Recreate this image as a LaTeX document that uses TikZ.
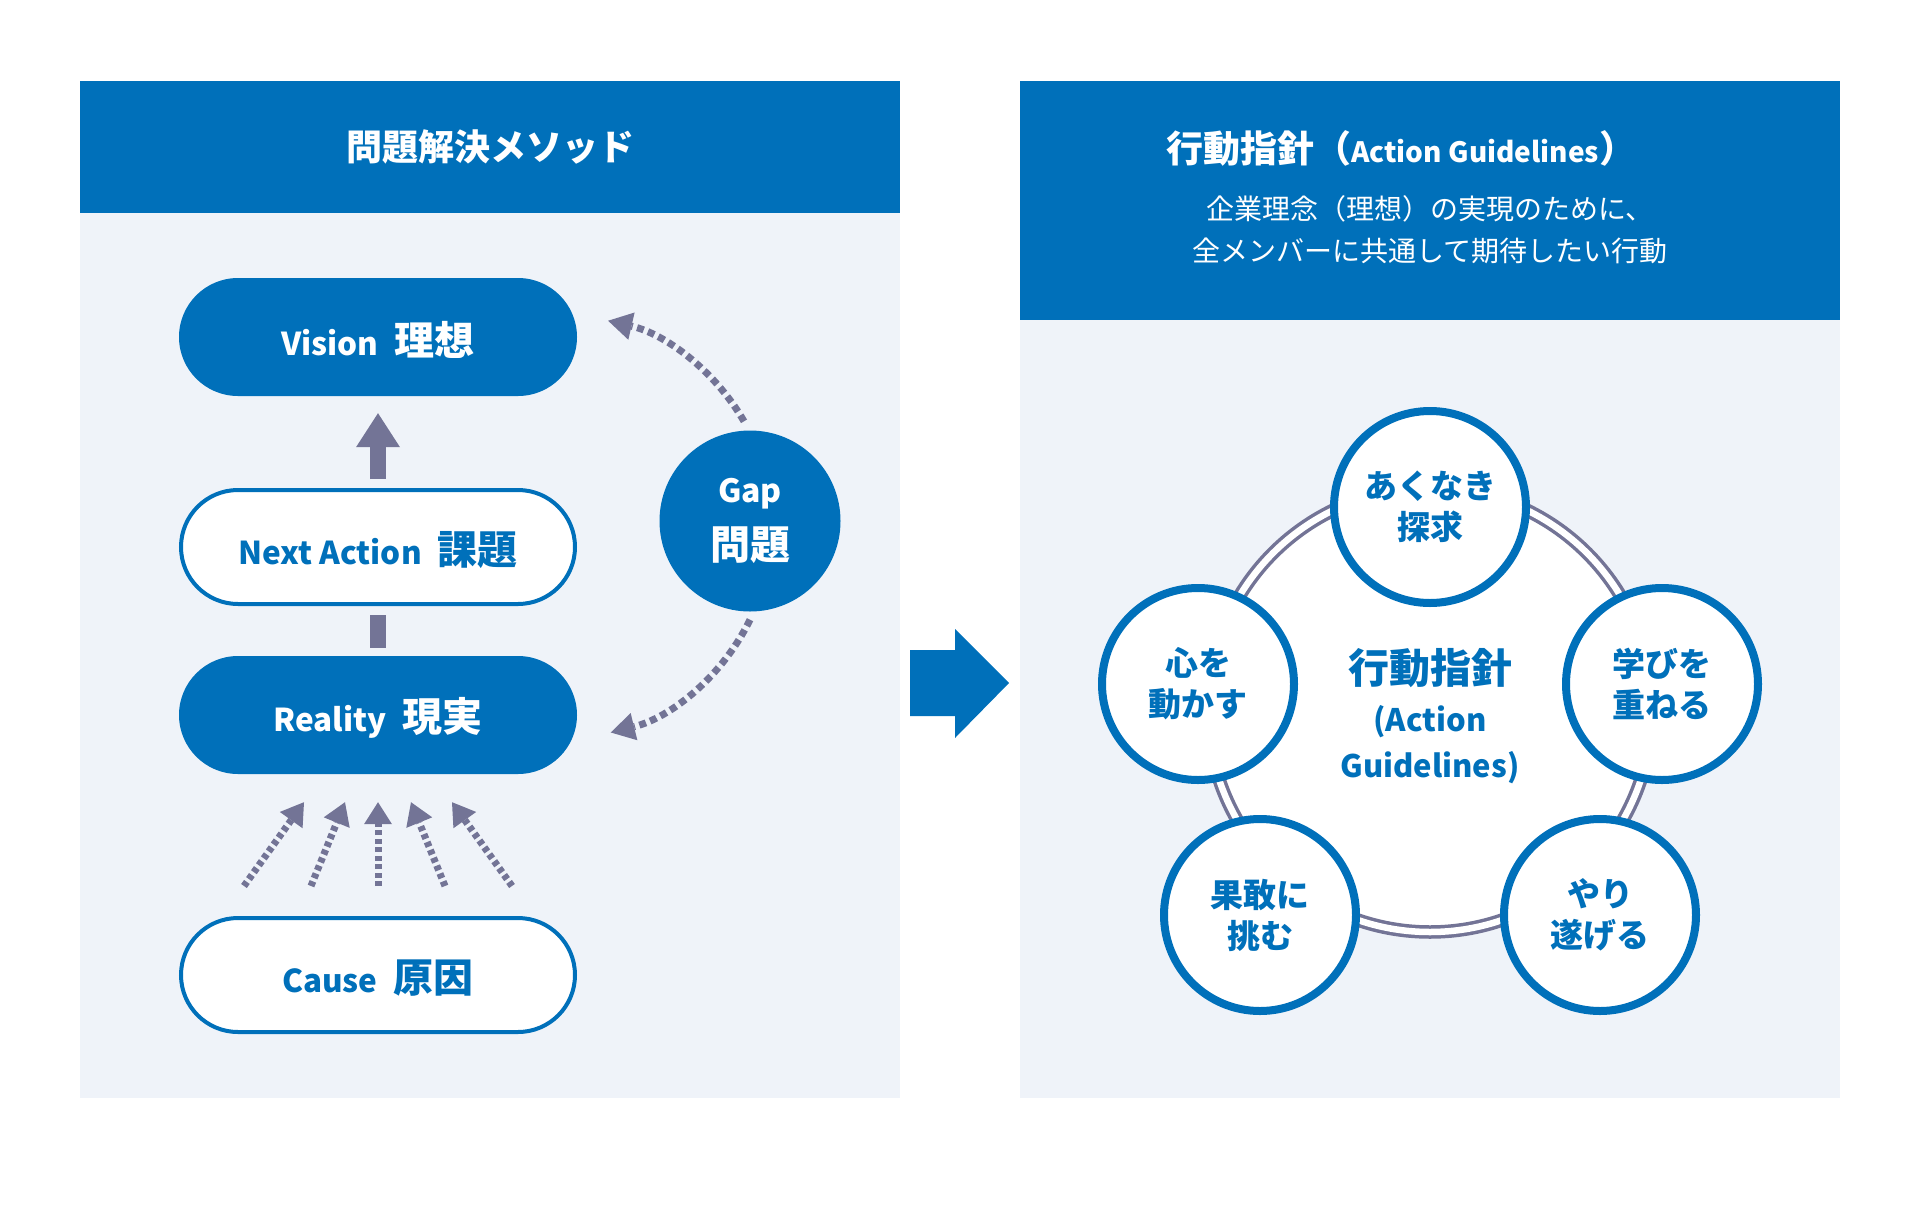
\documentclass[tikz,border=0pt]{standalone}
\usepackage{fontspec}
\setmainfont{Noto Sans CJK JP}
\usetikzlibrary{arrows.meta,shapes.misc,calc}

\definecolor{mainblue}{RGB}{0,112,186}
\definecolor{panelbg}{RGB}{239,243,249}
\definecolor{arrowgray}{RGB}{115,116,150}

\newcommand{\entext}[1]{{\fontsize{31.5}{40}\selectfont #1}}
\newcommand{\jptext}[1]{{\fontsize{40}{48}\selectfont #1}}
\newcommand{\pilltext}[2]{\raisebox{-3pt}[\height][\depth]{\entext{#1}\hspace{16pt}\jptext{#2}}}

\begin{document}
\begin{tikzpicture}[x=1pt,y=-1pt,
  headtitle/.style={text=white,inner sep=0pt,font=\bfseries},
  subtitle/.style={text=white,inner sep=0pt,align=center,font=\fontsize{28}{42}\selectfont},
  pillfull/.style={rounded rectangle,fill=mainblue,text=white,minimum width=398pt,minimum height=118pt,inner sep=0pt,font=\bfseries},
  pillopen/.style={rounded rectangle,draw=mainblue,line width=4pt,fill=white,text=mainblue,minimum width=394pt,minimum height=114pt,inner sep=0pt,font=\bfseries},
  steparrow/.style={draw=arrowgray,line width=16pt,-{Triangle[length=34pt,width=44pt,line width=0pt]}},
  stepbar/.style={draw=arrowgray,line width=16pt},
  dotarrow/.style={draw=arrowgray,line width=7pt,dash pattern=on 5pt off 3.5pt,-{Triangle[length=22pt,width=28pt,line width=0pt]}},
  dotarc/.style={draw=arrowgray,line width=7pt,dash pattern=on 7pt off 4.5pt,-{Triangle[length=24pt,width=28pt,line width=0pt]}},
  gapdisc/.style={circle,fill=mainblue,text=white,minimum size=181pt,inner sep=0pt,align=center,font=\bfseries},
  corering/.style={circle,draw=arrowgray,line width=3.5pt,double=white,double distance=6.5pt,fill=white,minimum size=444pt,inner sep=0pt},
  coretext/.style={inner sep=0pt,align=center,text=mainblue,font=\bfseries\fontsize{31}{46}\selectfont},
  valuedisc/.style={circle,draw=mainblue,line width=8pt,fill=white,text=mainblue,minimum size=192pt,inner sep=0pt,align=center,font=\bfseries\fontsize{33}{41}\selectfont}]
\useasboundingbox (0,0) rectangle (1920,1208);

% panels
\fill[panelbg] (80,81) rectangle (900,1098);
\fill[mainblue] (80,81) rectangle (900,213);
\fill[panelbg] (1020,81) rectangle (1840,1098);
\fill[mainblue] (1020,81) rectangle (1840,320);

% titles
\node[headtitle] (methodtitle) at (490,147) {\fontsize{36}{44}\selectfont 問題解決メソッド};
\node[headtitle,anchor=west] (guidetitle) at (1166,148) {\fontsize{37}{44}\selectfont 行動指針（{\fontsize{28}{40}\selectfont Action Guidelines}）};
\node[subtitle] (guidesub) at (1430,230) {企業理念（理想）の実現のために、\\全メンバーに共通して期待したい行動};

% method chain
\node[pillfull] (vision) at (378,337) {\pilltext{Vision}{理想}};
\node[pillopen] (nextact) at (378,547) {\pilltext{Next Action}{課題}};
\node[pillfull] (reality) at (378,715) {\pilltext{Reality}{現実}};
\node[pillopen] (cause) at (378,975) {\pilltext{Cause}{原因}};

\draw[steparrow] ([yshift=9pt]nextact.north) -- ([yshift=-17pt]vision.south);
\draw[stepbar] ([yshift=-9pt]nextact.south) -- ([yshift=8pt]reality.north);

% causes
\foreach \s/\t in {-134/-74,-67/-33,0/0,67/33,134/74}
  \draw[dotarrow] ($(cause.north)+(\s,-30)$) -- ($(reality.south)+(\t,28)$);

% gap
\node[gapdisc] (gap) at (750,521) {{\fontsize{32}{36}\selectfont Gap}\\[16pt]\jptext{問題}};
\draw[dotarc] ([shift={(-6,-9)}]gap.north) arc[start angle=-30,end angle=-77,radius=212];
\draw[dotarc] ([shift={(0,8)}]gap.south) arc[start angle=26,end angle=76,radius=212];

% transfer arrow
\fill[mainblue] (910,650) -- (955,650) -- (955,629) -- (1009,683) -- (955,738) -- (955,716) -- (910,716) -- cycle;

% guidelines
\node[corering] (core) at (1430,710) {};
\node[coretext] (corelabel) at (1430,716) {{\fontsize{41}{50}\selectfont 行動指針}\\[2pt](Action\\Guidelines)};
\node[valuedisc] (quest) at (1430,507) {あくなき\\探求};
\node[valuedisc] (learn) at (1662,684) {学びを\\重ねる};
\node[valuedisc] (finish) at (1600,915) {やり\\遂げる};
\node[valuedisc] (dare) at (1260,915) {果敢に\\挑む};
\node[valuedisc] (move) at (1198,684) {心を\\動かす};

\end{tikzpicture}
\end{document}
